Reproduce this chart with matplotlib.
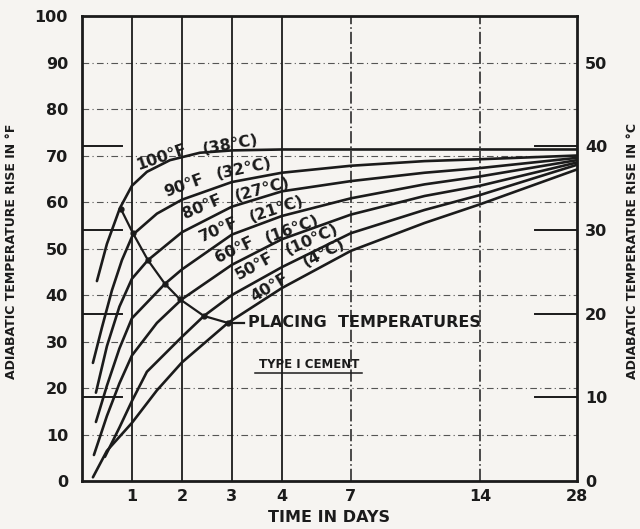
import numpy as np
import matplotlib.pyplot as plt

# x axis of the original is not linear: days mapped to grid slots
tick_days = [0, 1, 2, 3, 4, 7, 14, 28]
tick_slot = [0, 1, 2, 3, 4, 5.38, 7.96, 9.9]
tick_labels = ['', '1', '2', '3', '4', '7', '14', '28']

# adiabatic temperature rise (deg F) for each placing temperature
days_100 = [0.30, 0.5, 0.76, 1.0, 1.3, 1.76, 2.36, 3, 4, 7, 11, 14, 28]
rise_100 = [43, 51, 58.7, 63.5, 66.5, 69, 70.6, 71.1, 71.3, 71.3, 71.3, 71.3, 71.3]

days_90 = [0.22, 0.4, 0.6, 0.8, 1.02, 1.5, 2, 3, 4, 7, 11, 14, 28]
rise_90 = [25.4, 33, 41, 47.5, 53, 57.5, 60.5, 64.3, 66.3, 67.8, 68.8, 69.2, 70]

days_80 = [0.28, 0.5, 0.75, 1, 1.32, 2, 3, 4, 7, 11, 14, 28]
rise_80 = [19, 29, 37.5, 43.5, 47.5, 53.5, 59, 62.3, 64.5, 66.3, 67.3, 69.5]

days_70 = [0.28, 0.5, 0.75, 1, 1.66, 2, 3, 4, 7, 11, 14, 28]
rise_70 = [12.7, 20.5, 28.5, 35, 42.4, 45.5, 53, 57, 60.8, 63.8, 65.5, 69]

days_60 = [0.24, 0.5, 0.75, 1, 1.5, 2, 3, 4, 7, 11, 14, 28]
rise_60 = [5.6, 14, 21, 27, 34, 39.1, 46.5, 52, 57.3, 61.3, 63.5, 68.5]

days_50 = [0.46, 0.75, 1, 1.3, 2, 2.44, 3, 4, 7, 11, 14, 28]
rise_50 = [5.2, 11.5, 17.2, 23.5, 31, 35.5, 40, 46, 53.3, 58.3, 61.5, 68]

days_40 = [0.22, 0.5, 1, 1.5, 2, 2.92, 4, 7, 11, 14, 28]
rise_40 = [0.8, 6.5, 12.5, 19.5, 25.5, 34, 41.5, 49.5, 55.5, 59.5, 67]

# placing temperature locus (one point on each curve)
place_days = [0.78, 1.02, 1.32, 1.66, 1.96, 2.44, 2.92]
place_rise = [58.5, 53.3, 47.5, 42.4, 39.1, 35.5, 34.0]

# curve labels, written in two pieces so they bend with the curves
label_f = ['100°F', '90°F', '80°F', '70°F', '60°F', '50°F', '40°F']
label_c = ['(38°C)', '(32°C)', '(27°C)', '(21°C)', '(16°C)', '(10°C)', '(4°C)']
f_days = [1.6, 2.04, 2.4, 2.74, 3.06, 3.45, 3.75]
f_rise = [69.6, 63.4, 59.0, 54.0, 49.7, 46.3, 41.7]
f_angle = [19, 20, 23, 24, 26, 29, 31]
c_days = [2.97, 3.23, 3.6, 3.9, 4.45, 5.3, 5.83]
c_rise = [72.4, 67.2, 62.8, 58.5, 54.2, 52.0, 49.0]
c_angle = [10, 12, 15, 18, 20, 24, 27]

celsius_marks = [10, 20, 30, 40]

ink = '#1b1b1b'
paper = '#f6f4f1'


def to_slot(d):
    return np.interp(d, tick_days, tick_slot)


def from_slot(s):
    return np.interp(s, tick_slot, tick_days)


fig = plt.figure(figsize=(6.4, 5.29), dpi=100)
fig.patch.set_facecolor(paper)
ax = fig.add_axes([0.128, 0.0907, 0.7734, 0.879])
ax.set_facecolor(paper)
ax.set_xscale('function', functions=(to_slot, from_slot))
ax.set_xlim(0, 28)
ax.set_ylim(0, 100)

# grid
for v in range(10, 100, 10):
    ax.axhline(v, color='#555555', lw=0.8, ls=(0, (6, 3, 1, 3)), zorder=1)
for d in [1, 2, 3, 4]:
    ax.axvline(d, color=ink, lw=1.3, zorder=1)
for d in [7, 14]:
    ax.axvline(d, color=ink, lw=1.1, ls=(0, (8, 2, 1, 2)), zorder=1)

# long marks for the celsius scale on both sides
for c in celsius_marks:
    f = c * 1.8
    ax.axhline(f, xmin=0, xmax=0.08, color=ink, lw=1.4, zorder=2)
    ax.axhline(f, xmin=0.915, xmax=1, color=ink, lw=1.4, zorder=2)

curves = [(days_100, rise_100), (days_90, rise_90), (days_80, rise_80),
          (days_70, rise_70), (days_60, rise_60), (days_50, rise_50),
          (days_40, rise_40)]
for d, r in curves:
    ax.plot(d, r, color=ink, lw=1.9, solid_capstyle='round', zorder=3)

for i in range(len(label_f)):
    ax.text(f_days[i], f_rise[i], label_f[i], rotation=f_angle[i],
            rotation_mode='anchor', ha='center', va='center',
            fontsize=11.5, fontweight='bold', color=ink, zorder=4)
    ax.text(c_days[i], c_rise[i], label_c[i], rotation=c_angle[i],
            rotation_mode='anchor', ha='center', va='center',
            fontsize=11.5, fontweight='bold', color=ink, zorder=4)

ax.plot(place_days, place_rise, color=ink, lw=1.6, marker='o', ms=3.5, zorder=4)
ax.plot([place_days[-1], 3.25], [place_rise[-1], place_rise[-1]], color=ink, lw=1.6, zorder=4)
ax.text(3.32, 34, 'PLACING  TEMPERATURES', ha='left', va='center',
        fontsize=11.5, fontweight='bold', color=ink)

ax.text(5.17, 23.7, 'TYPE I CEMENT', ha='center', va='bottom',
        fontsize=8.5, fontweight='bold', color=ink)
ax.plot([3.46, 7.6], [23.2, 23.2], color=ink, lw=1.1)

ax.set_xticks(tick_days[1:])
ax.set_xticklabels(tick_labels[1:])
ax.set_yticks(range(0, 101, 10))
ax.tick_params(axis='both', length=0, labelsize=11.5, colors=ink)
ax.tick_params(axis='y', pad=10)
ax.tick_params(axis='x', pad=6)
for lab in ax.get_xticklabels() + ax.get_yticklabels():
    lab.set_fontweight('bold')
for s in ax.spines.values():
    s.set_linewidth(2.0)
    s.set_color(ink)

sec = ax.secondary_yaxis('right', functions=(lambda f: f / 1.8, lambda c: c * 1.8))
sec.set_yticks(range(0, 51, 10))
sec.tick_params(length=0, pad=6, labelsize=11.5, colors=ink)
for lab in sec.get_yticklabels():
    lab.set_fontweight('bold')
sec.spines['right'].set_visible(False)

ax.set_xlabel('TIME IN DAYS', fontsize=11.5, fontweight='bold', color=ink, labelpad=4)
fig.text(0.018, 0.525, 'ADIABATIC TEMPERATURE RISE IN °F', rotation=90,
         ha='center', va='center', fontsize=9, fontweight='bold', color=ink)
fig.text(0.988, 0.525, 'ADIABATIC TEMPERATURE RISE IN °C', rotation=90,
         ha='center', va='center', fontsize=9, fontweight='bold', color=ink)

fig.savefig('out.png', dpi=100, facecolor=fig.get_facecolor())
